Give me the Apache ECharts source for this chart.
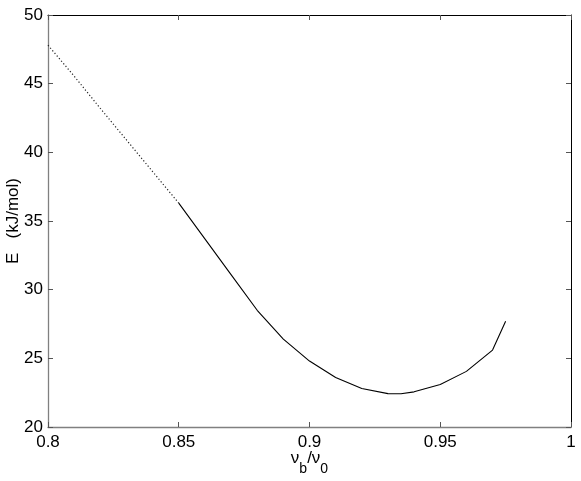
<!DOCTYPE html>
<html>
<head>
<meta charset="utf-8">
<script src="https://cdn.jsdelivr.net/npm/echarts@6/dist/echarts.min.js"></script>
<style>html,body{margin:0;padding:0;background:#fff;}#c{width:581px;height:481px;}</style>
</head>
<body>
<div id="c"></div>
<script>
// Data
const dottedX = [0.80, 0.81, 0.82, 0.83, 0.84, 0.85];
const dottedE = [47.8, 45.55, 43.2, 40.9, 38.6, 36.3];
const solidX = [0.85, 0.86, 0.87, 0.88, 0.89, 0.90, 0.91, 0.92, 0.93, 0.935, 0.94, 0.95, 0.96, 0.97, 0.975];
const solidE = [36.3, 33.7, 31.1, 28.5, 26.4, 24.8, 23.6, 22.8, 22.43, 22.42, 22.56, 23.1, 24.05, 25.6, 27.7];
const xTicks = [0.8, 0.85, 0.9, 0.95, 1];
const yTicks = [20, 25, 30, 35, 40, 45, 50];

const font = 'Liberation Sans, Arial, Helvetica, sans-serif';
const chart = echarts.init(document.getElementById('c'), null, {renderer: 'canvas'});
const pair = (xs, ys) => xs.map((x, i) => [x, ys[i]]);

chart.setOption({
  animation: false,
  backgroundColor: '#fff',
  grid: {left: 48, right: 10, top: 15, bottom: 54, containLabel: false, outerBoundsMode: 'none'},
  xAxis: [{
    type: 'value', min: xTicks[0], max: xTicks[xTicks.length - 1], interval: 0.05,
    position: 'bottom',
    axisLine: {show: true, onZero: false, lineStyle: {color: '#808080', width: 1.3}},
    axisTick: {show: true, inside: true, length: 5, lineStyle: {color: '#555'}},
    axisLabel: {color: '#000', fontSize: 17, fontFamily: font, margin: 7},
    splitLine: {show: false},
    name: '{n|ν}{s|b}{n|/ν}{s|0}',
    nameLocation: 'middle', nameGap: 23, nameMoveOverlap: false,
    nameTextStyle: {
      fontFamily: font,
      rich: {
        n: {fontSize: 17, fontFamily: font, color: '#000', verticalAlign: 'top', lineHeight: 26},
        s: {fontSize: 14, fontFamily: font, color: '#000', verticalAlign: 'bottom', lineHeight: 26}
      }
    }
  }, {
    type: 'value', min: xTicks[0], max: xTicks[xTicks.length - 1], interval: 0.05,
    position: 'top',
    axisLine: {show: true, onZero: false, lineStyle: {color: '#000', width: 1}},
    axisTick: {show: true, inside: true, length: 5, lineStyle: {color: '#555'}},
    axisLabel: {show: false},
    splitLine: {show: false}
  }],
  yAxis: [{
    type: 'value', min: yTicks[0], max: yTicks[yTicks.length - 1], interval: 5,
    position: 'left',
    axisLine: {show: true, onZero: false, lineStyle: {color: '#808080', width: 1.3}},
    axisTick: {show: true, inside: true, length: 5, lineStyle: {color: '#555'}},
    axisLabel: {color: '#000', fontSize: 17, fontFamily: font, margin: 5},
    splitLine: {show: false},
    name: 'E   (kJ/mol)',
    nameLocation: 'middle', nameGap: 26, nameRotate: 90, nameMoveOverlap: false,
    nameTextStyle: {color: '#000', fontSize: 17, fontFamily: font}
  }, {
    type: 'value', min: yTicks[0], max: yTicks[yTicks.length - 1], interval: 5,
    position: 'right',
    axisLine: {show: true, onZero: false, lineStyle: {color: '#000', width: 1}},
    axisTick: {show: true, inside: true, length: 5, lineStyle: {color: '#555'}},
    axisLabel: {show: false},
    splitLine: {show: false}
  }],
  series: [{
    type: 'line', xAxisIndex: 0, yAxisIndex: 0,
    data: pair(dottedX, dottedE),
    showSymbol: false, symbol: 'none',
    lineStyle: {color: '#222', width: 1.2, type: [1.2, 2.2]}
  }, {
    type: 'line', xAxisIndex: 0, yAxisIndex: 0,
    data: pair(solidX, solidE),
    showSymbol: false, symbol: 'none',
    lineStyle: {color: '#000', width: 1.1}
  }]
});
</script>
</body>
</html>
